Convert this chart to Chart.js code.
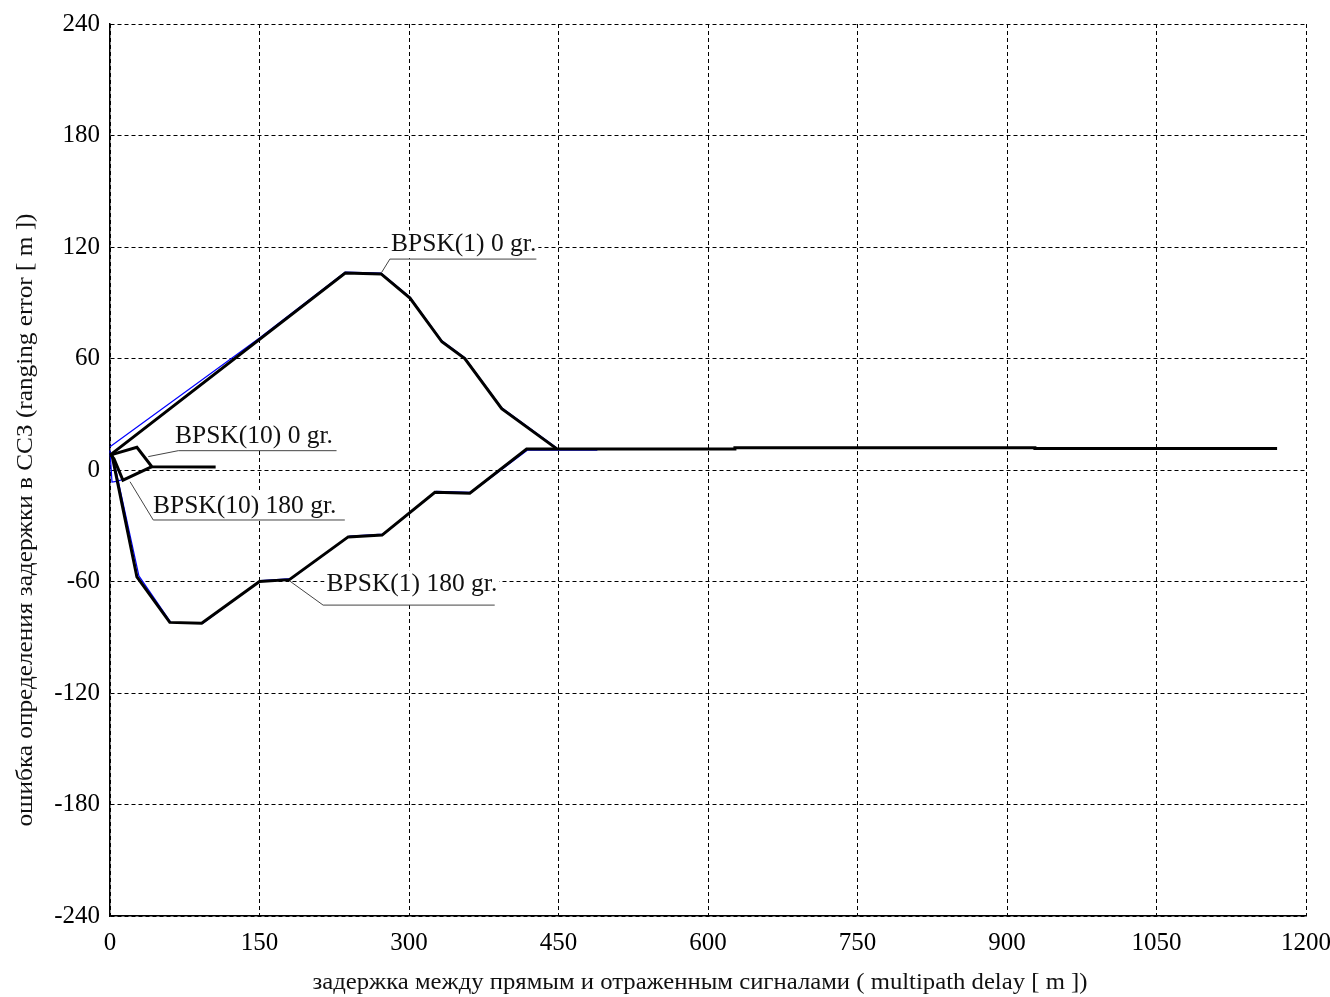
<!DOCTYPE html>
<html>
<head>
<meta charset="utf-8">
<script src="https://cdn.jsdelivr.net/npm/chart.js@4.4.0/dist/chart.umd.min.js"></script>
<style>
  html, body { margin: 0; padding: 0; background: #fff; }
  #wrap { width: 1330px; height: 997px; }
</style>
</head>
<body>
<div id="wrap"><canvas id="myChart" width="1330" height="997"></canvas></div>
<script>
// Axis ticks
const xTicks = [0, 150, 300, 450, 600, 750, 900, 1050, 1200];
const yTicks = [-240, -180, -120, -60, 0, 60, 120, 180, 240];

// BPSK(1), 0 gr.
const bpsk1_0Delay = [0, 236, 272, 301, 333, 356, 393, 448];
const bpsk1_0Err = [8, 106, 105.5, 92.5, 69, 60, 33, 11.5];

// BPSK(1), 180 gr. (the long flat tail belongs to both BPSK(1) curves)
const bpsk1_180Delay = [2, 27, 60, 92, 150, 180, 239, 273, 326, 361, 418, 627, 627, 928, 928, 1171];
const bpsk1_180Err = [8, -57.5, -82, -82.5, -60, -59, -36, -35, -12, -12.5, 11.3, 11.3, 12, 12, 11.6, 11.6];

// BPSK(10), 0 gr. and 180 gr.
const bpsk10_0Delay = [0, 27, 42, 106];
const bpsk10_0Err = [8, 12.2, 1.8, 1.6];
const bpsk10_180Delay = [1, 4, 13, 42];
const bpsk10_180Err = [8, 6, -5.5, 1.8];

// Second (thin blue) set of curves, mostly hidden under the black ones
const alt1_0Delay = [0, 150, 236, 272, 301, 333, 356, 393, 448];
const alt1_0Err = [12.5, 71, 106.5, 106, 93, 69.5, 60.5, 33.5, 12];
const alt1_180Delay = [3, 29, 61, 93, 151.5, 182, 240.5, 274.5, 327.5, 362.5, 419, 489];
const alt1_180Err = [7, -57, -82, -82.5, -59.5, -58.5, -35.5, -34.5, -11.5, -12, 10.7, 10.7];
const alt10Delay = [0, 2, 8, 13];
const alt10Err = [10.5, -6.5, -6, -5];

const xTitle = 'задержка между прямым и отраженным сигналами ( multipath delay [ m ])';
const yTitle = 'ошибка определения задержки в ССЗ (ranging error [ m ])';

function pts(xs, ys) {
    return xs.map((x, i) => ({ x: x, y: ys[i] }));
}

function blackLine(label, xs, ys) {
    return {
        label: label,
        data: pts(xs, ys),
        borderColor: '#000',
        borderWidth: 3,
        pointRadius: 0,
        tension: 0,
        clip: 10
    };
}

function blueLine(label, xs, ys) {
    return {
        label: label,
        data: pts(xs, ys),
        borderColor: '#0000ff',
        borderWidth: 1.2,
        pointRadius: 0,
        tension: 0,
        clip: 10
    };
}

// Callout labels: leader line from a point on the curve to an underline, text above it
const notes = [
    { text: 'BPSK(1) 0 gr.', from: [272.4, 106.2], elbow: [280.8, 113.5], end: 427.8, textX: 282, baseY: 117.6 },
    { text: 'BPSK(10) 0 gr.', from: [38.4, 7.2], elbow: [68.5, 10.4], end: 227.3, textX: 65.2, baseY: 14.7 },
    { text: 'BPSK(10) 180 gr.', from: [20.1, -6.3], elbow: [43.4, -26.9], end: 235.6, textX: 43.1, baseY: -23.3 },
    { text: 'BPSK(1) 180 gr.', from: [180.5, -59.8], elbow: [213.8, -72.7], end: 386, textX: 217.3, baseY: -65.2 }
];

const calloutPlugin = {
    id: 'callouts',
    afterDatasetsDraw(chart) {
        const ctx = chart.ctx;
        const xs = chart.scales.x, ys = chart.scales.y;
        ctx.save();
        ctx.font = '25.5px "Liberation Serif"';
        ctx.textBaseline = 'alphabetic';
        ctx.textAlign = 'left';
        notes.forEach(n => {
            const tx = xs.getPixelForValue(n.textX);
            const ty = ys.getPixelForValue(n.baseY);
            const uy = ys.getPixelForValue(n.elbow[1]);
            const w = ctx.measureText(n.text).width;
            // text sits on a white box that hides the grid behind it
            ctx.fillStyle = '#fff';
            ctx.fillRect(tx - 2, ty - 21, w + 4, uy - ty + 20);
            ctx.strokeStyle = '#444';
            ctx.lineWidth = 1;
            ctx.beginPath();
            ctx.moveTo(xs.getPixelForValue(n.from[0]), ys.getPixelForValue(n.from[1]));
            ctx.lineTo(xs.getPixelForValue(n.elbow[0]), uy);
            ctx.lineTo(xs.getPixelForValue(n.end), uy);
            ctx.stroke();
            ctx.fillStyle = '#111';
            ctx.fillText(n.text, tx, ty);
        });
        ctx.restore();
    }
};

// Axis titles, stretched to the lengths they take on the page
function fitText(ctx, text, cx, cy, len, angle) {
    ctx.save();
    ctx.translate(cx, cy);
    ctx.rotate(angle);
    const w = ctx.measureText(text).width;
    ctx.scale(len / w, 1);
    ctx.fillText(text, 0, 0);
    ctx.restore();
}

const titlePlugin = {
    id: 'axisTitles',
    afterDraw(chart) {
        const ctx = chart.ctx;
        ctx.save();
        ctx.fillStyle = '#111';
        ctx.font = '24px "Liberation Serif"';
        ctx.textAlign = 'center';
        ctx.textBaseline = 'middle';
        fitText(ctx, xTitle, 700, 983, 775, 0);
        fitText(ctx, yTitle, 26, 520, 613, -Math.PI / 2);
        ctx.restore();
    }
};

const tickFont = { family: 'Liberation Serif', size: 25 };

const ctx = document.getElementById('myChart').getContext('2d');
const myChart = new Chart(ctx, {
    type: 'line',
    data: {
        datasets: [
            blackLine('BPSK(1) 0 gr.', bpsk1_0Delay, bpsk1_0Err),
            blackLine('BPSK(1) 180 gr.', bpsk1_180Delay, bpsk1_180Err),
            blackLine('BPSK(10) 0 gr.', bpsk10_0Delay, bpsk10_0Err),
            blackLine('BPSK(10) 180 gr.', bpsk10_180Delay, bpsk10_180Err),
            blueLine('alt 1-0', alt1_0Delay, alt1_0Err),
            blueLine('alt 1-180', alt1_180Delay, alt1_180Err),
            blueLine('alt 10', alt10Delay, alt10Err)
        ]
    },
    options: {
        responsive: false,
        animation: false,
        devicePixelRatio: 1,
        layout: { padding: { left: 0, top: 24, right: 24, bottom: 0 } },
        plugins: {
            legend: { display: false },
            tooltip: { enabled: false }
        },
        scales: {
            x: {
                type: 'linear',
                min: 0,
                max: 1200,
                afterBuildTicks: s => { s.ticks = xTicks.map(v => ({ value: v })); },
                afterFit: s => { s.height = 81; s.paddingLeft = 0; s.paddingRight = 0; },
                ticks: { font: tickFont, color: '#000', padding: 12, maxRotation: 0, autoSkip: false, callback: v => String(v) },
                grid: { color: '#000', lineWidth: 1, drawTicks: false },
                border: { display: true, color: '#000', width: 1.5, dash: [4, 3] }
            },
            y: {
                type: 'linear',
                min: -240,
                max: 240,
                afterBuildTicks: s => { s.ticks = yTicks.map(v => ({ value: v })); },
                afterFit: s => { s.width = 110; s.paddingTop = 0; s.paddingBottom = 0; },
                ticks: { font: tickFont, color: '#000', padding: 10, autoSkip: false, callback: v => String(v) },
                grid: { color: '#000', lineWidth: 1, drawTicks: false },
                border: { display: true, color: '#000', width: 1.5, dash: [4, 3] }
            }
        }
    },
    plugins: [calloutPlugin, titlePlugin]
});
</script>
</body>
</html>
